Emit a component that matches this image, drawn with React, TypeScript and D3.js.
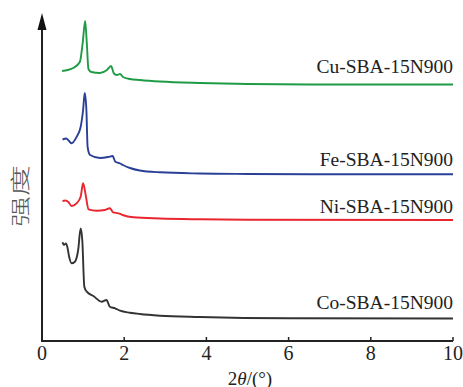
import React from "react";
import * as d3 from "d3";

const cuX = [0.49, 0.62, 0.76, 0.92, 0.99, 1.05, 1.09, 1.13, 1.2, 1.41, 1.58, 1.68, 1.75, 1.82, 1.9, 1.97, 2.14, 2.38, 2.87, 3.84, 5, 6.5, 8, 10];
const cuY = [270, 271, 273, 279, 298, 320, 298, 272, 269, 268, 271, 275, 267.5, 266, 267, 264, 262, 261, 259.5, 258, 257, 256.5, 256.5, 256.5];

const feX = [0.5, 0.59, 0.72, 0.84, 0.94, 1.0, 1.04, 1.08, 1.11, 1.17, 1.41, 1.61, 1.72, 1.78, 1.9, 1.97, 2.14, 2.38, 2.87, 3.84, 5, 6.5, 10];
const feY = [201.5, 202.5, 197.7, 204, 214, 231, 248, 231, 194, 186, 183, 184, 185, 179.5, 177.5, 176, 173, 170.5, 168.7, 167.5, 167, 166.7, 166.7];

const niX = [0.5, 0.57, 0.64, 0.72, 0.84, 0.94, 1.0, 1.07, 1.13, 1.33, 1.53, 1.65, 1.73, 1.86, 1.96, 2.22, 2.87, 3.84, 5, 10];
const niY = [140, 140.5, 139, 135, 137.7, 144.3, 157.7, 144.3, 131.7, 130.3, 131, 132.7, 128.7, 127.7, 126, 123.7, 122.5, 121.7, 121.2, 121];

const coX = [0.5, 0.535, 0.58, 0.615, 0.66, 0.72, 0.8, 0.88, 0.94, 0.98, 1.03, 1.09, 1.25, 1.45, 1.57, 1.65, 1.78, 1.9, 2.14, 2.38, 2.87, 3.84, 6, 10];
const coY = [98.7, 96, 97.5, 94.3, 84.3, 77.7, 79.3, 91, 112.5, 101, 54.3, 49.3, 45, 39.3, 41, 34.3, 32.7, 30.3, 28.3, 27, 25.3, 24, 22.7, 22.5];

const seriesNames = ["Cu-SBA-15N900", "Fe-SBA-15N900", "Ni-SBA-15N900", "Co-SBA-15N900"];
const seriesColors = ["#1f9b45", "#2a3f96", "#e8262e", "#333333"];
const labelValues = [268, 175, 128.3, 31.7];
const xTicks = [0, 2, 4, 6, 8, 10];

export default function App() {
  const W = 463, H = 387;
  const x = d3.scaleLinear().domain([0, 10]).range([42, 453]);
  const y = d3.scaleLinear().domain([0, 328]).range([341, 13]);
  const line = d3
    .line<[number, number]>()
    .x((d) => x(d[0]))
    .y((d) => y(d[1]))
    .curve(d3.curveMonotoneX);
  const data = [
    d3.zip(cuX, cuY),
    d3.zip(feX, feY),
    d3.zip(niX, niY),
    d3.zip(coX, coY),
  ] as [number, number][][];
  const font = "Liberation Serif";
  return (
    <svg width={W} height={H} style={{ position: "absolute", left: 0, top: 0, background: "#fff" }}>
      {data.map((d, i) => (
        <path key={i} d={line(d) || ""} fill="none" stroke={seriesColors[i]} strokeWidth={1.9} strokeLinejoin="round" />
      ))}
      {seriesNames.map((n, i) => (
        <text key={n} x={453} y={y(labelValues[i])} textAnchor="end" style={{ fontFamily: font }} fontSize={19.5} fill="#222">
          {n}
        </text>
      ))}
      {/* axes */}
      <line x1={x(0)} x2={x(10)} y1={y(0)} y2={y(0)} stroke="#222" strokeWidth={2} />
      <line x1={x(0)} x2={x(0)} y1={y(0) + 1} y2={28} stroke="#222" strokeWidth={2} />
      <path d={`M${x(0) - 4.5},${30} L${x(0)},${13} L${x(0) + 4.5},${30} Z`} fill="#111" />
      {xTicks.filter((t) => t > 0).map((t) => (
        <line key={t} x1={x(t)} x2={x(t)} y1={y(0)} y2={y(0) - 4} stroke="#222" strokeWidth={1.5} />
      ))}
      {xTicks.map((t) => (
        <text key={t} x={x(t)} y={360} textAnchor="middle" style={{ fontFamily: font }} fontSize={20} fill="#222">
          {t}
        </text>
      ))}
      <text x={250} y={384.5} textAnchor="middle" style={{ fontFamily: font }} fontSize={19} fill="#222">
        2<tspan fontStyle="italic">θ</tspan>/(°)
      </text>
      <text
        transform="translate(28,196) rotate(-90)"
        textAnchor="middle"
        style={{ fontFamily: "Noto Sans CJK SC" }}
        fontSize={20}
        fontWeight={300}
        textLength={62}
        lengthAdjust="spacingAndGlyphs"
        fill="#555"
      >
        强度
      </text>
    </svg>
  );
}
